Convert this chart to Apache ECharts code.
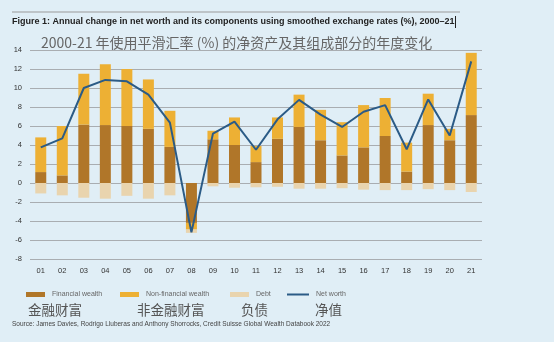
<!DOCTYPE html>
<html>
<head>
<meta charset="utf-8">
<script src="https://cdn.jsdelivr.net/npm/echarts@6/dist/echarts.min.js"></script>
<style>
  html, body { margin: 0; padding: 0; background: #e0eef6; }
  #chart { width: 554px; height: 342px; }
</style>
</head>
<body>
<div id="chart"></div>
<script>
// 年份 2001-2021(标签取后两位)
var years = ["01","02","03","04","05","06","07","08","09","10","11","12","13","14","15","16","17","18","19","20","21"];
// 各组成部分的年度变化(%)
var financial    = [1.15, 0.8, 6.15, 6.1, 6.0, 5.7, 3.8, -4.2, 4.6, 4.0, 2.2, 4.65, 5.9, 4.5, 2.9, 3.75, 4.95, 1.2, 6.1, 4.5, 7.15];
var nonFinancial = [3.65, 5.2, 5.35, 6.4, 6.0, 5.2, 3.8, -0.7, 0.9, 2.9, 1.7, 2.25, 3.4, 3.2, 3.5, 4.45, 4.0, 3.05, 3.3, 1.2, 6.55];
var debt         = [-1.1, -1.3, -1.55, -1.65, -1.35, -1.65, -1.3, -0.35, -0.35, -0.5, -0.45, -0.4, -0.6, -0.6, -0.55, -0.7, -0.75, -0.75, -0.65, -0.75, -0.95];
var netWorth     = [3.75, 4.7, 10.0, 10.85, 10.7, 9.3, 6.35, -5.2, 5.2, 6.45, 3.5, 6.7, 8.75, 7.2, 5.9, 7.5, 8.2, 3.55, 8.8, 5.0, 12.8];
var yTicks = { min: -8, max: 14, step: 2 };

var COL = { fin: "#b07629", nonFin: "#edb034", debt: "#e9d4ae", net: "#2b5b86",
  grid: "#a9adb1", text: "#333", dim: "#666" };
var CJK = "'Noto Sans CJK SC', sans-serif";
var LAT = "'Liberation Sans', Arial, sans-serif";

var chart = echarts.init(document.getElementById("chart"), null, { renderer: "canvas" });

// 图例逐项定位,与原图的四个色块对齐
function legendAt(left, name, w, h) {
  return { left: left, top: 291, padding: 0, data: [name], icon: "rect", itemWidth: w, itemHeight: h, itemGap: 0,
    selectedMode: false, textStyle: { color: COL.dim, fontSize: 7, fontFamily: LAT, padding: [0, 0, 0, 2] } };
}

chart.setOption({
  backgroundColor: "#e0eef6",
  animation: false,
  grid: { left: 30, right: 72, top: 50, bottom: 83 },
  xAxis: { type: "category", data: years,
    axisLine: { show: false }, axisTick: { show: false },
    axisLabel: { color: COL.text, fontSize: 7.5, fontFamily: LAT, margin: 8, interval: 0 } },
  yAxis: { type: "value", min: yTicks.min, max: yTicks.max, interval: yTicks.step,
    axisLine: { show: false }, axisTick: { show: false },
    axisLabel: { color: COL.text, fontSize: 7.5, fontFamily: LAT, margin: 8 },
    splitLine: { lineStyle: { color: COL.grid, width: 1 } } },
  legend: [
    legendAt(26, "Financial wealth", 19, 5),
    legendAt(120, "Non-financial wealth", 19, 5),
    legendAt(230, "Debt", 19, 5),
    legendAt(287, "Net worth", 22, 2)
  ],
  series: [
    { name: "Financial wealth", type: "bar", stack: "w", data: financial, barWidth: 11,
      itemStyle: { color: COL.fin } },
    { name: "Non-financial wealth", type: "bar", stack: "w", data: nonFinancial, barWidth: 11,
      itemStyle: { color: COL.nonFin } },
    { name: "Debt", type: "bar", stack: "w", data: debt, barWidth: 11,
      itemStyle: { color: COL.debt } },
    { name: "Net worth", type: "line", data: netWorth, symbol: "none",
      lineStyle: { color: COL.net, width: 2 }, itemStyle: { color: COL.net }, z: 5 }
  ],
  graphic: [
    { type: "line", shape: { x1: 12, y1: 12, x2: 460, y2: 12 }, style: { stroke: "#9a9a9a", lineWidth: 1 } },
    { type: "text", left: 12, top: 17, style: { text: "Figure 1: Annual change in net worth and its components using smoothed exchange rates (%), 2000–21",
      fill: "#222", font: "bold 9px " + LAT } },
    { type: "line", shape: { x1: 455.5, y1: 16, x2: 455.5, y2: 28 }, style: { stroke: "#222", lineWidth: 1 } },
    { type: "text", left: 41, top: 36, style: { text: "2000-21 年使用平滑汇率 (%) 的净资产及其组成部分的年度变化",
      fill: COL.dim, font: "14px " + CJK } },
    { type: "text", left: 28, top: 303, style: { text: "金融财富", fill: "#555", font: "13.5px " + CJK } },
    { type: "text", left: 137, top: 303, style: { text: "非金融财富", fill: "#555", font: "13.5px " + CJK } },
    { type: "text", left: 241, top: 303, style: { text: "负债", fill: "#555", font: "13.5px " + CJK } },
    { type: "text", left: 315, top: 303, style: { text: "净值", fill: "#555", font: "13.5px " + CJK } },
    { type: "text", left: 12, top: 321, style: { text: "Source: James Davies, Rodrigo Lluberas and Anthony Shorrocks, Credit Suisse Global Wealth Databook 2022",
      fill: "#444", font: "6.5px " + LAT } }
  ]
});
</script>
</body>
</html>
